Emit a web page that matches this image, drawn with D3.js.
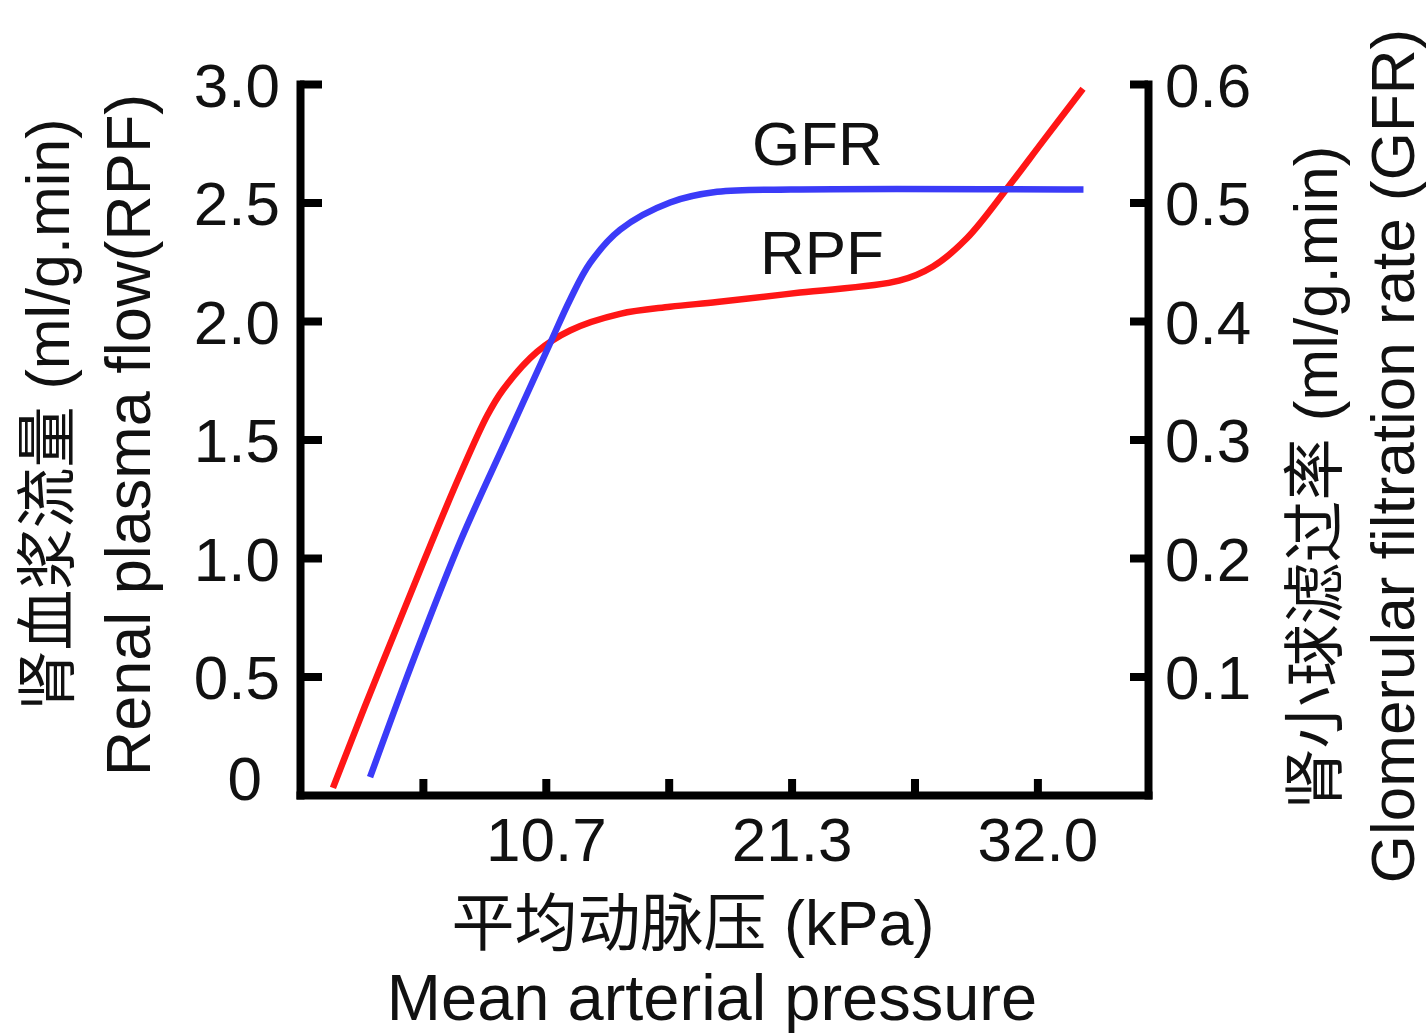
<!DOCTYPE html>
<html>
<head>
<meta charset="utf-8">
<script src="https://cdn.jsdelivr.net/npm/d3@7"></script>
<style>
  body { margin: 0; background: #fff; }
  svg text { font-family: "Liberation Sans", "Noto Sans CJK SC", sans-serif; fill: #111; }
</style>
</head>
<body>
<div class="container"></div>
<script>
// mean arterial pressure (kPa) ticks
const pressureTicks = [5.333, 10.667, 16, 21.333, 26.667, 32];
const pressureLabels = ["", "10.7", "", "21.3", "", "32.0"];

// left axis: renal plasma flow, right axis: GFR
const rpfTicks = [0, 0.5, 1, 1.5, 2, 2.5, 3];
const rpfTickLabels = ["0", "0.5", "1.0", "1.5", "2.0", "2.5", "3.0"];
const gfrTicks = [0.1, 0.2, 0.3, 0.4, 0.5, 0.6];
const gfrTickLabels = ["0.1", "0.2", "0.3", "0.4", "0.5", "0.6"];

// RPF curve
const rpfPressure = [1.43, 2.8, 4.34, 5.64, 6.94, 8.12, 8.81, 10.29, 11.72, 13.89, 16.06, 18.1, 21.7, 26.0, 27.47, 28.95, 30.69, 32.25, 33.98];
const rpfValue =    [0.03, 0.37, 0.74, 1.05, 1.35, 1.60, 1.71, 1.87, 1.96, 2.03, 2.06, 2.08, 2.12, 2.17, 2.23, 2.35, 2.56, 2.76, 2.98];

// GFR curve
const gfrPressure = [3.04, 5.0, 7.0, 9.0, 10.85, 11.72, 12.59, 13.89, 16.06, 18.1, 21.3, 34.0];
const gfrValue =    [0.015, 0.118, 0.216, 0.302, 0.381, 0.418, 0.449, 0.477, 0.500, 0.509, 0.511, 0.511];

const W = 1426, H = 1036;
const svg = d3.select(".container").append("svg")
    .attr("width", W)
    .attr("height", H);

const x = d3.scaleLinear().domain([0, 36.8]).range([300, 1148]);
const yL = d3.scaleLinear().domain([0, 3]).range([795, 84]);
const yR = d3.scaleLinear().domain([0, 0.6]).range([795, 84]);

const fontSize = 62;

const styleAxis = (g) => {
    g.select(".domain").attr("stroke", "#000").attr("stroke-width", 8).attr("stroke-linecap", "square");
    g.selectAll(".tick line").attr("stroke", "#000").attr("stroke-width", 8);
    g.selectAll(".tick text").attr("font-size", fontSize).attr("fill", "#111")
        .style("font-family", "\"Liberation Sans\", sans-serif");
};

// bottom axis
svg.append("g")
    .attr("transform", `translate(0, ${yL(0)})`)
    .call(d3.axisBottom(x)
        .tickValues(pressureTicks)
        .tickFormat((d, i) => pressureLabels[i])
        .tickSizeInner(-16)
        .tickSizeOuter(0)
        .tickPadding(22))
    .call(styleAxis);

// left axis
svg.append("g")
    .attr("transform", `translate(${x(0)}, 0)`)
    .call(d3.axisLeft(yL)
        .tickValues(rpfTicks.filter((d) => d > 0))
        .tickFormat((d) => rpfTickLabels[rpfTicks.indexOf(d)])
        .tickSizeInner(-22)
        .tickSizeOuter(0)
        .tickPadding(20))
    .call(styleAxis)
    .selectAll(".tick text").attr("dy", "0.36em");

// the "0" label sits a bit above the bottom axis
svg.append("text")
    .attr("x", x(0) - 38)
    .attr("y", yL(0.07))
    .attr("text-anchor", "end")
    .attr("dominant-baseline", "central")
    .attr("font-size", fontSize)
    .text(rpfTickLabels[0]);

// right axis
svg.append("g")
    .attr("transform", `translate(${x(36.8)}, 0)`)
    .call(d3.axisRight(yR)
        .tickValues(gfrTicks)
        .tickFormat((d, i) => gfrTickLabels[i])
        .tickSizeInner(-18)
        .tickSizeOuter(0)
        .tickPadding(17))
    .call(styleAxis)
    .selectAll(".tick text").attr("dy", "0.36em");

// curves
const line = (yScale) => d3.line()
    .x((d) => x(d[0]))
    .y((d) => yScale(d[1]))
    .curve(d3.curveCatmullRom.alpha(0.5));

svg.append("path")
    .datum(rpfPressure.map((p, i) => [p, rpfValue[i]]))
    .attr("d", line(yL))
    .attr("fill", "none")
    .attr("stroke", "#ff1616")
    .attr("stroke-width", 6.5);

svg.append("path")
    .datum(gfrPressure.map((p, i) => [p, gfrValue[i]]))
    .attr("d", line(yR))
    .attr("fill", "none")
    .attr("stroke", "#3b3bf8")
    .attr("stroke-width", 6.5);

// curve labels
svg.append("text")
    .attr("x", x(22.45))
    .attr("y", yL(2.66))
    .attr("text-anchor", "middle")
    .attr("font-size", fontSize)
    .text("GFR");

svg.append("text")
    .attr("x", x(22.65))
    .attr("y", yL(2.2))
    .attr("text-anchor", "middle")
    .attr("font-size", fontSize)
    .text("RPF");

// axis titles
const title = (tx, ty, rot, txt, size) => {
    svg.append("text")
        .attr("transform", `translate(${tx}, ${ty}) rotate(${rot})`)
        .attr("text-anchor", "middle")
        .attr("dominant-baseline", rot ? "central" : "auto")
        .attr("font-size", size)
        .text(txt);
};

title(48, 415, -90, "肾血浆流量 (ml/g.min)", 61);
title(128, 435, -90, "Renal plasma flow(RPF)", 63);
title(1315, 478, -90, "肾小球滤过率 (ml/g.min)", 62);
title(1392, 456, -90, "Glomerular filtration rate (GFR)", 62);
title(693, 945, 0, "平均动脉压 (kPa)", 63);
title(712, 1020, 0, "Mean arterial pressure", 65);
</script>
</body>
</html>
